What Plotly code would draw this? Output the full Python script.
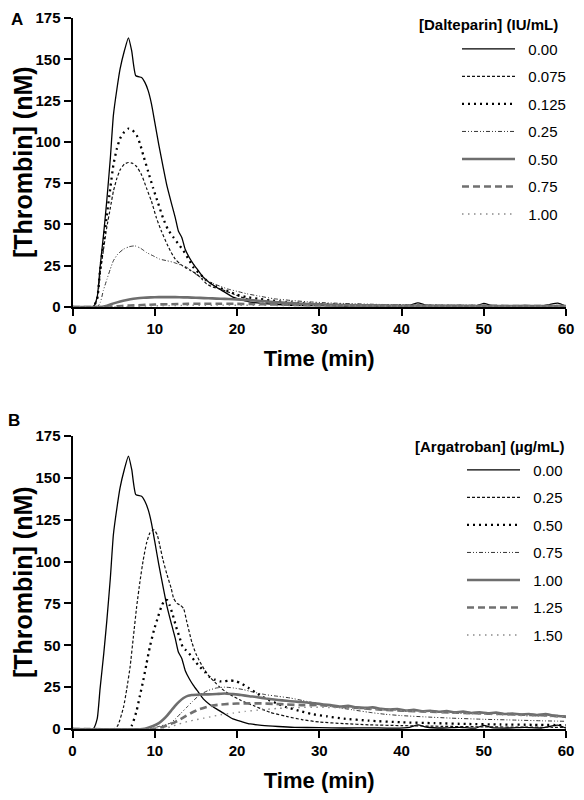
import plotly.graph_objects as go

# The page body has an 8 px margin, so the figure is 8 px smaller than the window
W, H = 576, 792
OFF = 8
FONT = "Liberation Sans, Arial, sans-serif"

# ---------------- Panel A: Dalteparin ----------------
dalteparin_labels = ["0.00", "0.075", "0.125", "0.25", "0.50", "0.75", "1.00"]

ctrl_t = [0, 2.5, 3.0, 3.35, 3.8, 4.16, 4.6, 4.97, 5.4, 5.78, 6.3, 6.8, 7.2, 7.7, 8.4, 8.8, 9.2, 9.6,
          10.0, 10.5, 11.05, 11.5, 12.07, 12.5, 12.87, 13.3, 13.7, 14.2, 14.7, 15.3, 15.9, 16.6, 17.5,
          18.5, 19.5, 20.5, 21.6, 23, 25, 27, 30, 33, 36, 39, 41, 42, 43, 45, 47, 49, 50, 51, 53, 55,
          57, 58, 59, 60]
ctrl_y = [0, 0, 6, 24, 45, 64, 90, 116, 132, 144, 155, 163, 155, 140, 139, 136, 131, 123,
          112, 98, 84, 73, 62, 54, 46, 42, 35, 30, 26, 22, 18, 15, 12,
          9, 6, 4.5, 3, 2.2, 1.5, 1, 0.8, 0.6, 0.7, 0.5, 1, 2.5, 1.2, 0.6, 1, 0.5, 2.2, 0.8, 0.6, 1,
          0.6, 1.5, 2.3, 0.5]

dal075_t = [0, 2.5, 3.0, 3.35, 3.8, 4.16, 4.6, 4.97, 5.4, 5.78, 6.3, 6.8, 7.3, 7.8, 8.4, 9.0, 9.6,
            10.2, 10.8, 11.5, 12.0, 12.5, 13.1, 13.7, 14.4, 15.1, 15.7, 16.3, 17.1, 17.9, 18.7, 19.5,
            20.5, 22, 23.5, 25, 27, 30, 34, 38, 42, 46, 50, 55, 60]
dal075_y = [0, 0, 5, 20, 36, 48, 60, 70, 78, 83, 86.5, 87.5, 87, 85, 80, 72, 64,
            54, 46, 38, 33, 29, 26, 24, 22, 20, 17, 14, 12, 11, 9.5, 8,
            6, 4, 3, 2.3, 1.8, 1.3, 1, 0.8, 0.7, 0.6, 0.6, 0.5, 0.5]

dal125_t = [0, 2.5, 3.0, 3.35, 3.8, 4.16, 4.6, 4.97, 5.4, 5.78, 6.3, 6.8, 7.3, 7.8, 8.2, 8.6, 9.2,
            9.8, 10.4, 11.0, 11.6, 12.3, 12.9, 13.5, 14.1, 14.7, 15.5, 16.3, 17.5, 18.7, 20, 21.2,
            22.5, 24, 26, 28, 30, 34, 38, 42, 46, 50, 55, 60]
dal125_y = [0, 0, 5, 22, 40, 55, 72, 86, 96, 102, 106, 108, 107, 104, 99, 92, 82,
            72, 63, 54, 47, 42, 38, 34, 29, 24, 20, 16, 12.5, 10, 7.5, 6,
            5, 4, 3, 2.3, 1.8, 1.3, 1, 0.8, 0.7, 0.6, 0.5, 0.5]

dal25_t = [0, 3.0, 3.4, 3.75, 4.2, 4.6, 4.97, 5.5, 6.2, 6.9, 7.6, 8.3, 9.0, 9.8, 10.6, 11.5, 12.3,
           13.1, 13.9, 14.7, 15.5, 16.3, 17.2, 18.0, 18.8, 20.0, 21.2, 22.8, 24.5, 26.5, 28.5, 31,
           34, 37, 40, 44, 48, 52, 56, 60]
dal25_y = [0, 0, 3, 10, 17, 23, 28, 32, 35, 36.5, 37, 35.5, 33, 31, 29, 28, 27,
           25.5, 24, 21, 18, 16, 14, 12.5, 11, 9.5, 8, 6.5, 5, 4, 3.2, 2.5,
           2, 1.6, 1.3, 1.1, 1, 0.9, 0.8, 0.8]

dal50_t = [0, 3.5, 4.2, 5.0, 5.8, 6.6, 7.4, 8.2, 9.0, 10, 11, 12, 13, 14, 15, 16, 17, 18, 19, 20,
           21, 22, 23, 24, 25, 26, 28, 30, 33, 36, 40, 45, 50, 55, 60]
dal50_y = [0, 0, 0.8, 2.2, 3.4, 4.3, 5.0, 5.4, 5.7, 5.9, 6.0, 6.0, 5.9, 5.8, 5.6, 5.4, 5.2, 5.0,
           4.8, 4.6, 4.3, 4.0, 3.6, 3.2, 2.8, 2.5, 2.0, 1.6, 1.2, 1.0, 0.8, 0.7, 0.6, 0.6, 0.5]

dal75_t = [0, 4, 5, 6, 7, 8, 9, 10, 12, 14, 16, 18, 20, 22, 24, 26, 28, 30, 35, 40, 45, 50, 55, 60]
dal75_y = [0, 0, 0.3, 0.6, 0.9, 1.1, 1.3, 1.5, 1.7, 1.9, 2.0, 2.0, 1.9, 1.8, 1.6, 1.4, 1.2, 1.1,
           0.9, 0.8, 0.7, 0.7, 0.6, 0.6]

dal100_t = [0, 5, 7, 9, 11, 14, 17, 20, 23, 26, 30, 35, 40, 50, 60]
dal100_y = [0, 0, 0.3, 0.6, 0.8, 1.0, 1.1, 1.1, 1.0, 0.9, 0.8, 0.7, 0.6, 0.5, 0.5]

# ---------------- Panel B: Argatroban ----------------
argatroban_labels = ["0.00", "0.25", "0.50", "0.75", "1.00", "1.25", "1.50"]

arg25_t = [0, 5.0, 5.5, 6.2, 6.6, 7.0, 7.4, 7.8, 8.2, 8.6, 9.0, 9.4, 9.9, 10.3, 10.6, 11.0, 11.5,
           12.0, 12.3, 12.7, 13.1, 13.5, 13.9, 14.5, 15.0, 15.5, 16.1, 16.7, 17.3, 17.9, 19.0, 20.5,
           22, 24, 26, 28, 30, 33, 36, 40, 45, 50, 55, 60]
arg25_y = [0, 0, 2, 13, 24, 37, 55, 73, 88, 101, 111, 117, 119, 116, 110, 101, 92,
           84, 78, 75, 74, 72, 64, 52, 45, 40, 35, 31, 28, 25, 21, 17,
           14, 10, 7.5, 5.5, 4.2, 3.2, 2.5, 2, 1.6, 1.3, 1.1, 1]

arg50_t = [0, 6.8, 7.2, 7.8, 8.2, 8.6, 9.0, 9.4, 9.9, 10.4, 10.8, 11.2, 11.5, 11.8, 12.2, 12.6,
           13.0, 13.4, 13.8, 14.2, 14.8, 15.5, 16.1, 16.7, 17.3, 17.9, 18.5, 19.2, 19.9, 20.6, 21.4,
           22.2, 23, 24, 25, 26, 27.5, 29, 31, 33, 36, 40, 44, 48, 52, 56, 60]
arg50_y = [0, 0, 2, 11, 20, 29, 39, 49, 59, 67, 73, 77, 77, 74, 68, 61,
           55, 49, 47, 45, 41, 37, 34, 31, 29.5, 28.5, 28.5, 29, 28.5, 27, 24.5,
           22, 19.5, 17, 15, 13, 11, 9, 7.5, 6.2, 5, 4, 3.5, 3, 2.7, 2.5, 2.3]

arg75_t = [0, 9.0, 9.8, 10.5, 11.2, 11.9, 12.5, 13.2, 13.9, 14.6, 15.5, 16.5, 17.5, 18.5, 19.6,
           20.8, 22, 23.5, 25, 26.5, 28, 30, 32, 34, 36, 38, 40, 43, 46, 50, 54, 57, 60]
arg75_y = [0, 0, 0.5, 1.5, 2.5, 3.5, 6, 9.5, 13, 16.5, 20.5, 23, 24.5, 25, 24.5,
           23.5, 22, 20.5, 19.5, 18.5, 17, 15, 13, 11.5, 10, 8.8, 8, 7.2, 6.5, 5.8, 5.3, 4.9, 4.6]

arg100_t = [0, 8.5, 9.2, 9.8, 10.5, 11.0, 11.5, 12.0, 12.5, 13.0, 13.5, 14.0, 14.5, 15.5, 16.5,
            17.5, 18.5, 19.5, 20.5, 21.5, 22.5, 23.5, 24.5, 25.5, 26.5, 27.5, 28.5, 29.5, 30.5,
            31.5, 32.5, 33.5, 34.5, 35.5, 36.5, 37.5, 38.5, 39.5, 40.5, 41.5, 42.5, 43.5, 44.5,
            45.5, 46.5, 47.5, 48.5, 49.5, 50.5, 51.5, 52.5, 53.5, 54.5, 55.5, 56.5, 57.5, 58.5,
            59.5, 60]
arg100_y = [0, 0, 0.8, 1.8, 3.5, 5.5, 8, 11, 14, 16.5, 18.5, 19.8, 20.3, 20.6, 20.7,
            20.9, 21.2, 20.8, 20.3, 19.6, 19.0, 18.2, 17.6, 17.1, 16.6, 16.2, 15.8, 15.4, 14.6,
            14.2, 13.4, 13.8, 12.9, 12.6, 12.9, 12.0, 11.6, 11.9, 11.0, 11.4, 10.6, 10.9, 10.3,
            10.7, 10.0, 10.4, 9.6, 9.9, 9.4, 9.8, 9.0, 9.3, 8.7, 9.0, 8.3, 8.9, 8.0,
            7.6, 7.2]

arg125_t = [0, 9.8, 10.6, 11.4, 12.2, 13.0, 13.8, 14.6, 15.4, 16.2, 17.0, 18.0, 19.0, 20.0, 21.5,
            23, 24.5, 26, 28, 30, 32.5, 35, 37.5, 40, 43, 46, 49, 52, 55, 58, 60]
arg125_y = [0, 0, 0.8, 2, 3.5, 5.5, 7.8, 10, 11.8, 13, 14, 14.6, 15, 15.2, 15.3,
            15.3, 15.0, 14.7, 14.2, 14.3, 13.3, 12.5, 11.6, 11.0, 10.4, 9.9, 9.4, 9.0, 8.5, 8.0, 7.4]

arg150_t = [0, 11, 12, 13, 14, 15, 16, 17, 18, 19.5, 21, 23, 25, 27, 30, 33, 36, 40, 44, 48, 52,
            56, 60]
arg150_y = [0, 0, 1.5, 3, 4.5, 5.5, 6.5, 7.5, 8.5, 9.5, 10.5, 11.5, 12.3, 12.8, 13, 12.6, 12,
            11, 10, 9.2, 8.5, 7.8, 7.2]

time_ticks = [0, 10, 20, 30, 40, 50, 60]
thrombin_ticks = [0, 25, 50, 75, 100, 125, 150, 175]

panelA = [(ctrl_t, ctrl_y), (dal075_t, dal075_y), (dal125_t, dal125_y), (dal25_t, dal25_y),
          (dal50_t, dal50_y), (dal75_t, dal75_y), (dal100_t, dal100_y)]
panelB = [(ctrl_t, ctrl_y), (arg25_t, arg25_y), (arg50_t, arg50_y), (arg75_t, arg75_y),
          (arg100_t, arg100_y), (arg125_t, arg125_y), (arg150_t, arg150_y)]
for t, y in panelA + panelB:
    assert len(t) == len(y), (len(t), len(y), t[:3])

# line styles shared by the two panels (same order of concentrations)
STYLES = [
    dict(color="#000000", width=1.3, dash="solid"),
    dict(color="#111111", width=1.2, dash="3px,2px"),
    dict(color="#000000", width=2.3, dash="2px,4px"),
    dict(color="#333333", width=1.0, dash="4px,2px,1px,2px,1px,2px"),
    dict(color="#6e6e6e", width=2.6, dash="solid"),
    dict(color="#707070", width=2.6, dash="7px,4px"),
    dict(color="#8a8a8a", width=1.4, dash="1.5px,4.5px"),
]
PAD = "\u00a0\u00a0"  # small gap between legend line and label

fig = go.Figure()
for i, ((t, y), lab) in enumerate(zip(panelA, dalteparin_labels)):
    fig.add_trace(go.Scatter(x=t, y=y, mode="lines", name=PAD + lab, line=STYLES[i],
                             xaxis="x", yaxis="y", legend="legend", legendgroup=f"a{i}",
                             line_shape="spline", line_smoothing=0.5))
for i, ((t, y), lab) in enumerate(zip(panelB, argatroban_labels)):
    fig.add_trace(go.Scatter(x=t, y=y, mode="lines", name=PAD + lab, line=STYLES[i],
                             xaxis="x2", yaxis="y2", legend="legend2", legendgroup=f"b{i}",
                             line_shape="spline", line_smoothing=0.5))


def px_x(p):  # page pixel -> paper fraction
    return (p - OFF) / W


def px_y(p):
    return 1 - (p - OFF) / H


tickfont = dict(family=FONT, size=15, color="black", weight="bold")
xtitlefont = dict(family=FONT, size=22, color="black", weight="bold")
ytitlefont = dict(family=FONT, size=25, color="black", weight="bold")

xdom = [px_x(72.5), px_x(566)]
axis_common = dict(showgrid=False, zeroline=False, showline=True, linecolor="black", linewidth=2,
                   ticks="outside", ticklen=7, tickwidth=2, tickcolor="black", tickfont=tickfont,
                   automargin=False, ticklabeloverflow="allow")

legend_font = dict(family=FONT, size=15, color="black")
fig.update_layout(
    width=W, height=H, margin=dict(l=0, r=0, t=0, b=0),
    paper_bgcolor="white", plot_bgcolor="white",
    font=dict(family=FONT, color="black"),
    xaxis=dict(domain=xdom, range=[0, 60], tickvals=time_ticks, anchor="y",
               title=dict(text="Time (min)", font=xtitlefont), **axis_common),
    yaxis=dict(domain=[px_y(307), px_y(18)], range=[0, 175], tickvals=thrombin_ticks, anchor="x",
               **axis_common),
    xaxis2=dict(domain=xdom, range=[0, 60], tickvals=time_ticks, anchor="y2",
                title=dict(text="Time (min)", font=xtitlefont), **axis_common),
    yaxis2=dict(domain=[px_y(729), px_y(436)], range=[0, 175], tickvals=thrombin_ticks, anchor="x2",
                **axis_common),
    legend=dict(x=px_x(457), y=px_y(32.7), xanchor="left", yanchor="top", bgcolor="rgba(0,0,0,0)",
                font=legend_font, itemwidth=53, traceorder="grouped", tracegroupgap=5),
    legend2=dict(x=px_x(462), y=px_y(453.7), xanchor="left", yanchor="top",
                 bgcolor="rgba(0,0,0,0)", font=legend_font, itemwidth=53,
                 traceorder="grouped", tracegroupgap=5),
    annotations=[
        dict(text="A", x=px_x(17), y=1, xref="paper", yref="paper", showarrow=False,
             xanchor="center", yanchor="top",
             font=dict(family=FONT, size=17, color="black", weight="bold")),
        dict(text="B", x=px_x(14), y=px_y(420), xref="paper", yref="paper", showarrow=False,
             xanchor="center", yanchor="middle",
             font=dict(family=FONT, size=17, color="black", weight="bold")),
        dict(text="[Thrombin] (nM)", x=px_x(22.5), y=px_y(162.5), xref="paper", yref="paper",
             textangle=-90, showarrow=False, xanchor="center", yanchor="middle", font=ytitlefont),
        dict(text="[Thrombin] (nM)", x=px_x(22.5), y=px_y(582.5), xref="paper", yref="paper",
             textangle=-90, showarrow=False, xanchor="center", yanchor="middle", font=ytitlefont),
        dict(text="[Dalteparin] (IU/mL)", x=px_x(560), y=px_y(24), xref="paper", yref="paper",
             xanchor="right", yanchor="middle", showarrow=False,
             font=dict(family=FONT, size=15, color="black", weight="bold")),
        dict(text="[Argatroban] (µg/mL)", x=px_x(566), y=px_y(446.7), xref="paper", yref="paper",
             xanchor="right", yanchor="middle", showarrow=False,
             font=dict(family=FONT, size=15, color="black", weight="bold")),
    ],
)

fig.write_html("out.html")
